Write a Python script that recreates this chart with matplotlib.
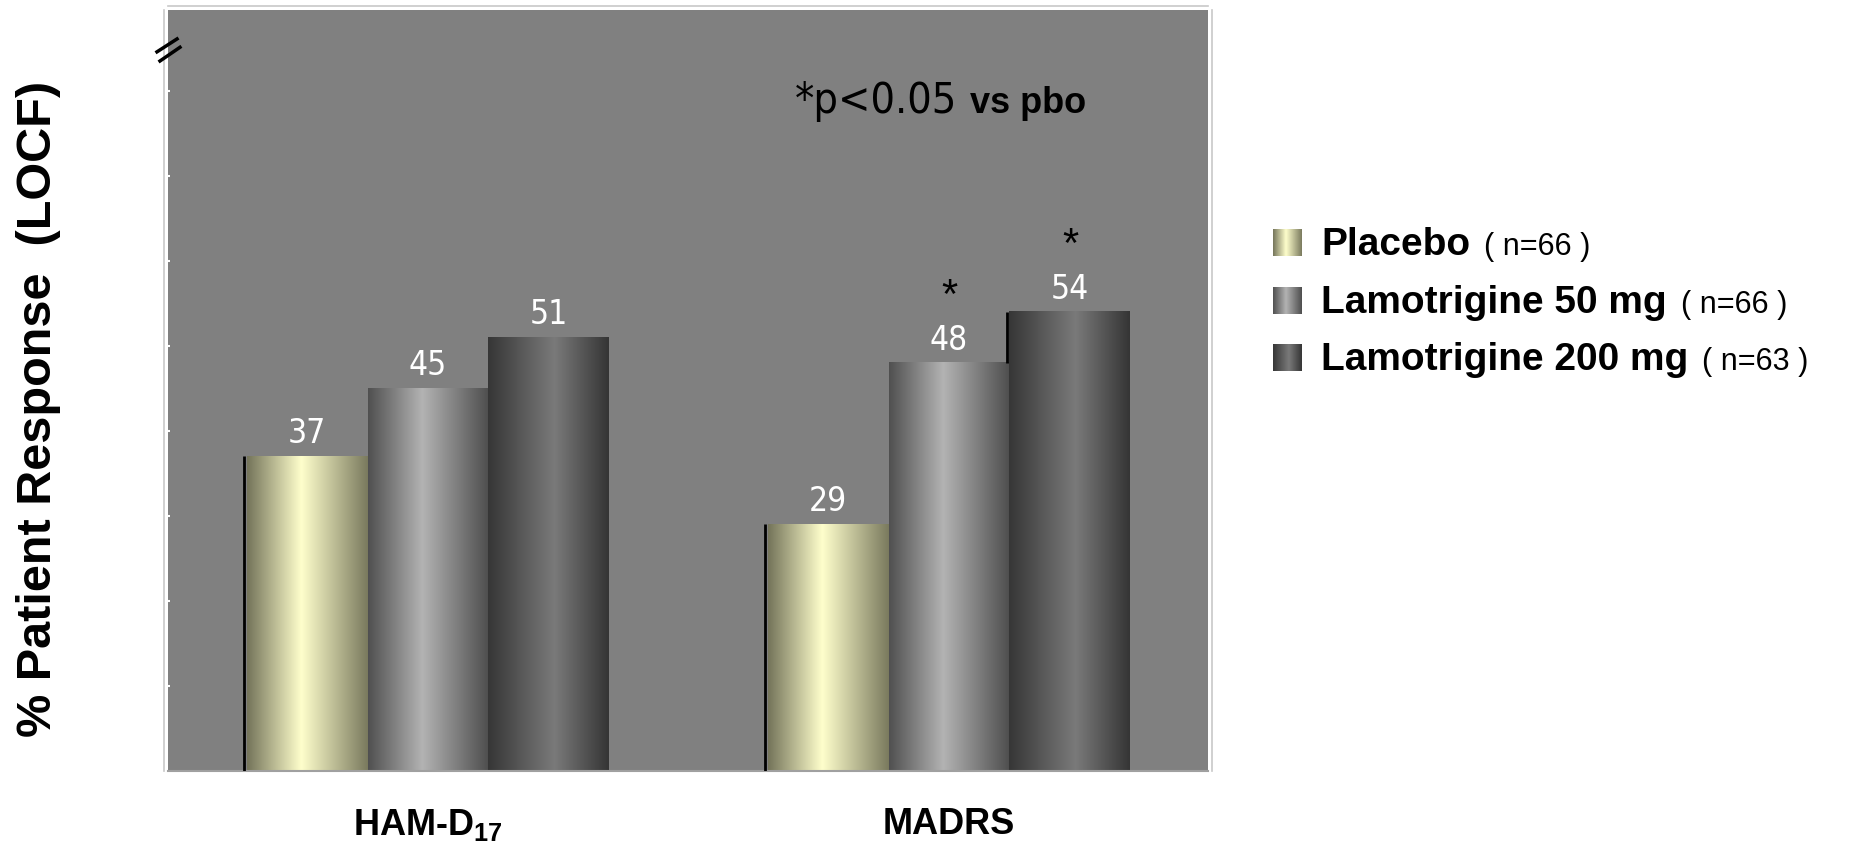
import numpy as np
import matplotlib
matplotlib.use('Agg')
import matplotlib.pyplot as plt
from matplotlib import font_manager
from matplotlib.font_manager import FontProperties
from matplotlib.colors import LinearSegmentedColormap

categories = [r'HAM-D$_{\mathbf{17}}$', 'MADRS']
series = ['Placebo', 'Lamotrigine 50 mg', 'Lamotrigine 200 mg']
n_patients = [66, 66, 63]
response = [[37, 29], [45, 48], [51, 54]]
significant = [[False, False], [False, True], [False, True]]

# horizontal "cylinder" shading of each series
shading = [
    [(0.0, '#74745a'), (0.45, '#ffffcc'), (1.0, '#7a7a5e')],
    [(0.0, '#505050'), (0.45, '#b3b3b3'), (1.0, '#4e4e4e')],
    [(0.0, '#363636'), (0.55, '#7a7a7a'), (1.0, '#353535')],
]


def find_narrow():
    # look for any installed condensed / narrow face, else use Liberation Sans
    for f in font_manager.fontManager.ttflist:
        key = (f.name + ' ' + str(f.stretch) + ' ' + f.fname).lower()
        if ('narrow' in key or 'condensed' in key) and f.weight in (400, 'normal', 'regular') \
                and f.style == 'normal':
            return FontProperties(fname=f.fname), True
    return FontProperties(family='Liberation Sans'), False


narrow, has_narrow = find_narrow()

plt.rcParams['font.family'] = ['Liberation Sans', 'DejaVu Sans']
plt.rcParams['mathtext.fontset'] = 'custom'
plt.rcParams['mathtext.rm'] = 'Liberation Sans'
plt.rcParams['mathtext.bf'] = 'Liberation Sans:bold'

W, H = 1851, 845
fig = plt.figure(figsize=(W / 100, H / 100), dpi=100)
ax = fig.add_axes([168 / W, 73 / H, 1040 / W, 761 / H])
ax.set_facecolor('#808080')

# spines first: moving a spine resets the ticks of its axis
for side in ['left', 'top', 'right']:
    ax.spines[side].set_position(('outward', 3))
    ax.spines[side].set_color('#c8c8c8')
    ax.spines[side].set_linewidth(1.2)
ax.spines['bottom'].set_color('#a0a0a0')
ax.spines['bottom'].set_linewidth(1.5)

cmaps = [LinearSegmentedColormap.from_list(f'shade{i}', s) for i, s in enumerate(shading)]
grad = np.linspace(0, 1, 256)[None, :]

value_size = 24
x = np.arange(len(categories))
width = 0.232
bars = []
for i, name in enumerate(series):
    b = ax.bar(x + (i - 1) * width, response[i], width, color='none', edgecolor='none')
    bars.append(b)
    for j, p in enumerate(b.patches):
        x0, w, h = p.get_x(), p.get_width(), p.get_height()
        ax.imshow(grad, cmap=cmaps[i], extent=(x0, x0 + w, 0, h), aspect='auto',
                  interpolation='bicubic', zorder=2)
        ax.annotate(str(response[i][j]), (x0 + w / 2, h), xytext=(0, 5),
                    textcoords='offset points', ha='center', va='bottom',
                    color='white', fontproperties=narrow, fontsize=value_size, zorder=4)
        if significant[i][j]:
            ax.annotate('*', (x0 + w / 2, h), xytext=(0, 48),
                        textcoords='offset points', ha='center', va='center',
                        color='black', fontsize=30, zorder=4)

# dark shadow edges left by the 3D rendering
for p in bars[0].patches:
    ax.vlines(p.get_x() - 0.006, 0, p.get_height(), color='black', lw=2, zorder=3)
p_prev, p = bars[1].patches[1], bars[2].patches[1]
ax.vlines(p.get_x() - 0.004, p_prev.get_height(), p.get_height(), color='black', lw=2, zorder=3)

ax.set_xlim(-0.499, 1.497)
ax.set_ylim(0, 89.5)
ax.tick_params(axis='x', length=0, pad=25)
ax.tick_params(axis='y', direction='in', length=4, width=1.5, color='white')
ax.set_xticks(x)
ax.set_xticklabels(categories, fontsize=26, fontweight='bold')
ax.set_yticks(np.arange(10, 90, 10))
ax.set_yticklabels([])

# axis break mark
ax.plot([-0.0106, 0.0087], [0.945, 0.962], transform=ax.transAxes,
        color='black', lw=2.5, clip_on=False, zorder=5)
ax.plot([-0.0077, 0.0115], [0.933, 0.951], transform=ax.transAxes,
        color='black', lw=2.5, clip_on=False, zorder=5)

fig.canvas.draw()
renderer = fig.canvas.get_renderer()

note = ax.text(0.603, 0.866, '*p<0.05', transform=ax.transAxes,
               fontproperties=narrow, fontsize=31,
               va='baseline', color='black')
nb = note.get_window_extent(renderer)
fig.text((nb.x1 + 13) / W, ax.transAxes.transform((0, 0.866))[1] / H, 'vs pbo',
         fontsize=26, fontweight='bold', va='baseline', color='black')

fig.text(39 / W, 1 - 409 / H, '% Patient Response  (LOCF)', rotation=90,
         ha='center', va='center', fontsize=35, fontweight='bold')

# legend drawn by hand so the swatches keep their shading
row_y = [244, 302, 359]
for i, name in enumerate(series):
    yc = row_y[i]
    sw = fig.add_axes([1273 / W, (H - yc - 13) / H, 29 / W, 27 / H])
    sw.imshow(grad, cmap=cmaps[i], aspect='auto', interpolation='bicubic')
    sw.set_axis_off()
    t = fig.text(1321 / W, (H - yc - 11) / H, name, fontsize=28,
                 fontweight='bold', va='baseline')
    bb = t.get_window_extent(renderer)
    fig.text((bb.x1 + 14) / W, (H - yc - 11) / H, f'( n={n_patients[i]} )',
             fontsize=22, va='baseline')

fig.savefig('out.png', dpi=100, facecolor='white')
